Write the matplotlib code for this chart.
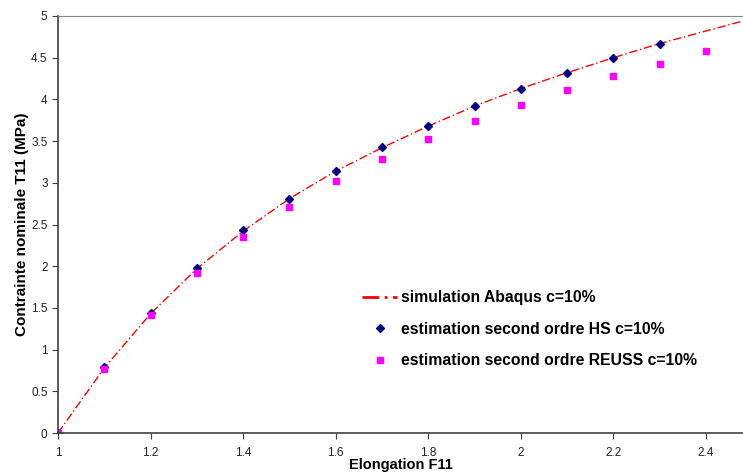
import matplotlib.pyplot as plt

# Abaqus simulation curve
sim_x = [1.0, 1.1, 1.2, 1.3, 1.4, 1.5, 1.6, 1.7, 1.8, 1.9, 2.0, 2.1, 2.2, 2.3, 2.4, 2.5]
sim_y = [0.0, 0.78, 1.43, 1.97, 2.42, 2.81, 3.14, 3.42, 3.68, 3.92, 4.13, 4.32, 4.50, 4.67, 4.82, 4.97]

# second order estimate HS
hs_x = [1.0, 1.1, 1.2, 1.3, 1.4, 1.5, 1.6, 1.7, 1.8, 1.9, 2.0, 2.1, 2.2, 2.3]
hs_y = [0.0, 0.79, 1.44, 1.98, 2.43, 2.81, 3.14, 3.43, 3.68, 3.92, 4.13, 4.32, 4.50, 4.67]

# second order estimate REUSS
reuss_x = [1.0, 1.1, 1.2, 1.3, 1.4, 1.5, 1.6, 1.7, 1.8, 1.9, 2.0, 2.1, 2.2, 2.3, 2.4]
reuss_y = [0.0, 0.77, 1.41, 1.92, 2.35, 2.71, 3.02, 3.29, 3.53, 3.74, 3.93, 4.11, 4.28, 4.43, 4.58]

plt.rcParams['font.family'] = ['Liberation Sans', 'DejaVu Sans']

fig = plt.figure(figsize=(7.43, 4.72), dpi=100)
ax = fig.add_axes([58 / 743, 39 / 472, 1 - 58 / 743, 417 / 472])

ax.plot(sim_x, sim_y, color='red', linestyle=(0, (6, 2, 1, 2)), linewidth=1.0,
        label='simulation Abaqus c=10%')
ax.plot(hs_x, hs_y, linestyle='none', marker='D', markersize=4.5,
        color='#000080', label='estimation second ordre HS c=10%')
ax.plot(reuss_x, reuss_y, linestyle='none', marker='s', markersize=4.5,
        color='#ff00ff', label='estimation second ordre REUSS c=10%')

ax.set_xlim(1, 2.48)
ax.set_ylim(0, 5)
ax.set_xticks([1, 1.2, 1.4, 1.6, 1.8, 2, 2.2, 2.4])
ax.set_xticklabels(['1', '1.2', '1.4', '1.6', '1.8', '2', '2.2', '2.4'])
ax.set_yticks([0, 0.5, 1, 1.5, 2, 2.5, 3, 3.5, 4, 4.5, 5])
ax.set_yticklabels(['0', '0.5', '1', '1.5', '2', '2.5', '3', '3.5', '4', '4.5', '5'])
ax.tick_params(labelsize=8.5, length=4, color='#404040', labelcolor='#222222')
ax.tick_params(axis='x', pad=6)

for s in ['left', 'bottom']:
    ax.spines[s].set_color('#404040')
    ax.spines[s].set_linewidth(1.2)
ax.spines['top'].set_color('#888888')
ax.spines['right'].set_visible(False)

ax.set_xlabel('Elongation F11', fontsize=10.5, fontweight='bold', labelpad=-1)
ax.set_ylabel('Contrainte nominale T11 (MPa)', fontsize=11, fontweight='bold')
ax.yaxis.set_label_coords(-0.042, 0.5)

leg = ax.legend(loc='upper left', bbox_to_anchor=(0.435, 0.357), frameon=False,
                prop={'weight': 'bold', 'size': 11.3},
                handlelength=2.2, handletextpad=0.3, labelspacing=1.05,
                borderaxespad=0)
leg.get_lines()[0].set_linewidth(2.0)

fig.savefig('out.png', dpi=100)
